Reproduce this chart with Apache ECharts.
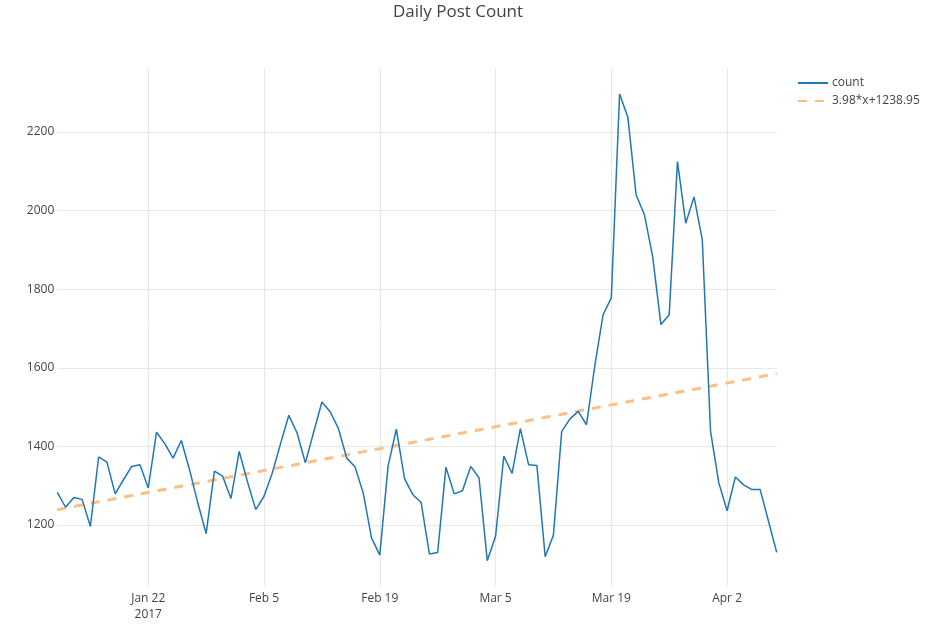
<!DOCTYPE html>
<html>
<head>
<meta charset="utf-8">
<script src="https://cdn.jsdelivr.net/npm/echarts@6/dist/echarts.min.js"></script>
<style>html,body{margin:0;padding:0;background:#fff;}#c{width:943px;height:641px;}</style>
</head>
<body>
<div id="c"></div>
<script>
// ---- data ----
const startDate = '2017-01-11';
const dayCount = 88;
const countValues = [
  1283, 1245, 1270, 1265, 1196, 1373, 1360, 1279, 1315, 1349,
  1353, 1294, 1436, 1407, 1370, 1415, 1340, 1255, 1178, 1337,
  1324, 1267, 1387, 1310, 1239, 1273, 1332, 1407, 1479, 1434,
  1358, 1436, 1513, 1488, 1445, 1370, 1348, 1281, 1167, 1123,
  1349, 1444, 1317, 1277, 1257, 1126, 1130, 1347, 1279, 1287,
  1349, 1320, 1109, 1171, 1375, 1331, 1445, 1353, 1351, 1119,
  1174, 1438, 1470, 1489, 1455, 1605, 1735, 1778, 2297, 2238,
  2040, 1990, 1883, 1710, 1735, 2125, 1968, 2035, 1926, 1438,
  1307, 1236, 1322, 1302, 1290, 1290, 1210, 1130
];
const trendEnds = [1238.95, 1585.21];
const seriesNames = ['count', '3.98*x+1238.95'];
const tickDates = ['2017-01-22', '2017-02-05', '2017-02-19', '2017-03-05', '2017-03-19', '2017-04-02'];
const tickLabels = ['Jan 22\n2017', 'Feb 5', 'Feb 19', 'Mar 5', 'Mar 19', 'Apr 2'];
const yTicks = [1200, 1400, 1600, 1800, 2000, 2200];

// ---- categories ----
const categories = [];
(function () {
  const d0 = new Date(startDate + 'T00:00:00Z');
  for (let i = 0; i < dayCount; i++) {
    const d = new Date(d0.getTime() + i * 86400000);
    categories.push(d.toISOString().slice(0, 10));
  }
})();
const tickSet = {};
tickDates.forEach((d, k) => { tickSet[d] = tickLabels[k]; });
const isTick = (idx, val) => tickSet.hasOwnProperty(categories[idx]);

const font = '"Open Sans", "Noto Sans", sans-serif';
const gridColor = '#e8e8e8';
const L = 57.3, R = 943 - 776.7;

const chart = echarts.init(document.getElementById('c'), null, { renderer: 'canvas' });
chart.setOption({
  animation: false,
  backgroundColor: '#fff',
  textStyle: { fontFamily: font },
  title: {
    text: 'Daily Post Count',
    left: 458, top: 4, padding: 0, textAlign: 'center',
    textStyle: { fontFamily: font, fontSize: 17, fontWeight: 'normal', color: '#444' }
  },
  legend: {
    orient: 'vertical', left: 797, top: 74, padding: 0,
    itemWidth: 30, itemHeight: 14, itemGap: 0,
    itemStyle: { opacity: 0 },
    data: seriesNames,
    textStyle: { fontFamily: font, fontSize: 12, color: '#444', lineHeight: 18, padding: [0, 0, 0, -1] }
  },
  grid: [
    { left: L, right: R, top: 68, bottom: 641 - 586.5, containLabel: false },
    { left: L, right: R, top: 53.5, bottom: 37.5, containLabel: false }
  ],
  xAxis: [
    {
      gridIndex: 0, type: 'category', boundaryGap: false, data: categories,
      axisLine: { show: false }, axisTick: { show: false },
      axisLabel: {
        interval: isTick, margin: 4, color: '#444', fontSize: 12, fontFamily: font, lineHeight: 16,
        formatter: (v) => tickSet[v] || ''
      },
      splitLine: { show: true, interval: isTick, lineStyle: { color: gridColor, width: 1 } }
    },
    {
      gridIndex: 1, type: 'category', boundaryGap: false, data: categories, show: false
    }
  ],
  yAxis: [
    {
      gridIndex: 0, type: 'value', min: 1000, max: 2400, interval: 200, show: false,
      splitLine: { show: false }
    },
    {
      gridIndex: 1, type: 'value', min: 1000, max: 2400, interval: 200,
      axisLine: { show: false }, axisTick: { show: false },
      axisLabel: {
        margin: 3, color: '#444', fontSize: 12, fontFamily: font,
        formatter: (v) => (yTicks.indexOf(v) >= 0 ? String(v) : '')
      },
      splitLine: {
        show: true,
        lineStyle: { color: ['rgba(0,0,0,0)', gridColor, gridColor, gridColor, gridColor, gridColor, gridColor, 'rgba(0,0,0,0)'], width: 1 }
      }
    }
  ],
  series: [
    {
      name: seriesNames[0], type: 'line', xAxisIndex: 1, yAxisIndex: 1,
      data: countValues, symbol: 'none', showSymbol: false,
      lineStyle: { color: '#1f77b4', width: 1.5 }, itemStyle: { color: '#1f77b4' },
      z: 3
    },
    {
      name: seriesNames[1], type: 'line', xAxisIndex: 1, yAxisIndex: 1,
      data: [[categories[0], trendEnds[0]], [categories[dayCount - 1], trendEnds[1]]],
      symbol: 'none', showSymbol: false,
      lineStyle: { color: '#fdbf85', width: 3, type: [9, 8] }, itemStyle: { color: '#fdbf85' },
      z: 2
    }
  ]
});
</script>
</body>
</html>
